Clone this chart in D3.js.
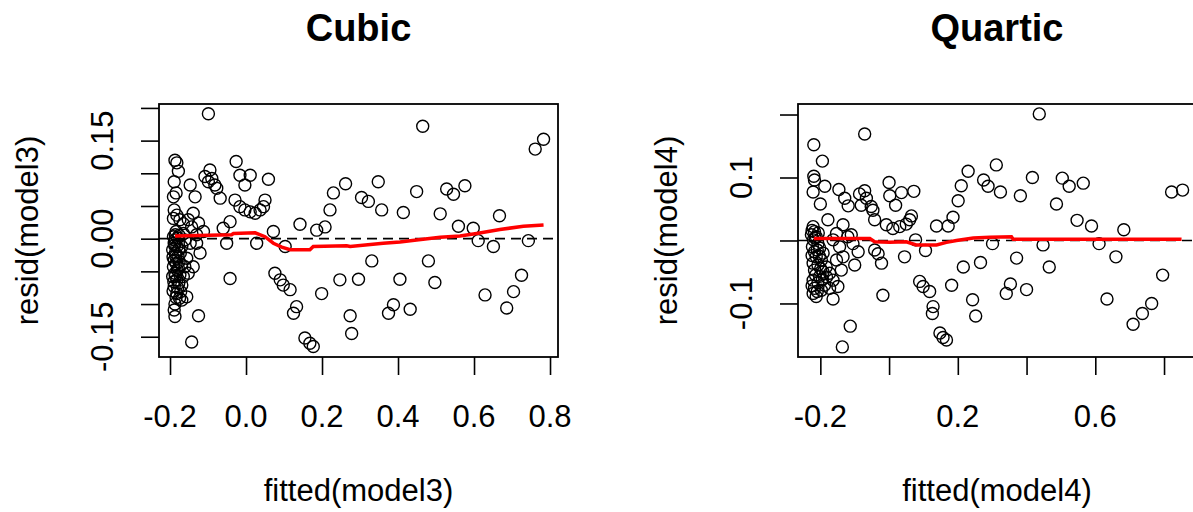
<!DOCTYPE html>
<html><head><meta charset="utf-8">
<script src="https://cdn.jsdelivr.net/npm/d3@7"></script>
<style>
html,body{margin:0;padding:0;background:#fff;}
svg text{font-family:"Liberation Sans",Arial,sans-serif;fill:#000;}
</style></head>
<body><svg id="chart" width="1193" height="512"></svg>
<script>
// ---------- DATA ----------
const titles = ["Cubic", "Quartic"];
const xLabels = ["fitted(model3)", "fitted(model4)"];
const yLabels = ["resid(model3)", "resid(model4)"];

// Cubic panel: [fitted, resid]
const cubicPoints = [
[-0.099,0.191],
[-0.187,0.120],[-0.182,0.116],[-0.178,0.103],[-0.189,0.087],[-0.184,0.070],[-0.191,0.064],
[-0.189,0.044],[-0.182,0.036],[-0.191,0.031],[-0.174,0.029],[-0.165,0.023],[-0.184,0.011],
[-0.191,0.003],[-0.187,-0.002],[-0.189,-0.007],[-0.182,-0.012],[-0.193,-0.017],[-0.186,-0.022],
[-0.179,-0.027],[-0.189,-0.033],[-0.184,-0.038],[-0.191,-0.043],[-0.181,-0.048],[-0.187,-0.053],
[-0.193,-0.058],[-0.182,-0.063],[-0.177,-0.068],[-0.189,-0.073],[-0.169,-0.071],[-0.165,-0.058],
[-0.161,-0.043],[-0.156,-0.030],[-0.169,-0.012],[-0.161,-0.002],[-0.147,-0.007],[-0.182,-0.084],
[-0.175,-0.091],[-0.187,-0.100],[-0.189,-0.109],[-0.187,-0.119],[-0.169,-0.094],[-0.156,-0.089],
[-0.152,-0.053],[-0.139,-0.043],[-0.121,-0.022],[-0.130,-0.007],[-0.143,0.018],[-0.152,0.029],
[-0.139,0.039],[-0.125,0.024],[-0.112,0.011],[-0.165,0.008],[-0.130,0.006],
[-0.186,0.006],[-0.180,0.001],[-0.188,-0.010],[-0.177,-0.016],[-0.185,-0.027],[-0.176,-0.035],
[-0.192,-0.028],[-0.178,-0.045],[-0.186,-0.057],[-0.174,-0.055],[-0.190,-0.066],[-0.180,-0.075],
[-0.172,-0.081],[-0.184,-0.090],[-0.173,-0.022],[-0.170,-0.040],[-0.176,0.005],[-0.192,-0.080],
[-0.147,0.082],[-0.134,0.064],[-0.125,-0.118],[-0.143,-0.158],
[-0.095,0.105],[-0.108,0.095],[-0.090,0.092],[-0.099,0.087],[-0.082,0.082],[-0.077,0.077],[-0.068,0.062],
[-0.042,0.026],[-0.060,0.016],[-0.051,-0.007],[-0.042,-0.061],
[-0.026,0.118],[-0.016,0.097],[0.011,0.097],[-0.003,0.082],[0.059,0.091],
[-0.029,0.059],[-0.016,0.049],[-0.003,0.044],[0.011,0.041],[0.024,0.039],[0.037,0.044],[0.050,0.059],[0.046,0.049],
[0.028,-0.007],[0.072,0.011],[0.103,-0.012],
[0.076,-0.053],[0.090,-0.063],[0.098,-0.071],[0.116,-0.078],[0.133,-0.104],[0.125,-0.114],
[0.155,-0.152],[0.168,-0.160],[0.177,-0.165],
[0.142,0.022],[0.186,0.013],[0.208,0.018],[0.221,0.044],[0.230,0.070],[0.262,0.084],
[0.199,-0.084],[0.247,-0.063],
[0.465,0.172],[0.348,0.087],[0.304,0.063],[0.322,0.057],[0.357,0.044],[0.414,0.040],[0.449,0.072],
[0.511,0.038],[0.528,0.076],[0.546,0.068],[0.576,0.081],[0.559,0.019],[0.598,0.016],[0.611,-0.003],
[0.651,-0.012],[0.667,0.035],[0.743,-0.003],[0.761,0.137],[0.783,0.152],
[0.331,-0.034],[0.296,-0.062],[0.405,-0.062],[0.480,-0.034],[0.497,-0.067],[0.388,-0.101],
[0.375,-0.114],[0.432,-0.108],[0.629,-0.086],[0.704,-0.081],[0.725,-0.056],[0.686,-0.106],
[0.274,-0.118],[0.278,-0.145]
];
const cubicSmooth = [
[-0.187,0.004],[-0.038,0.006],[-0.033,0.008],[0.024,0.009],[0.050,0.003],[0.072,-0.007],
[0.094,-0.013],[0.116,-0.017],[0.168,-0.017],[0.177,-0.012],[0.265,-0.011],[0.274,-0.012],
[0.361,-0.007],[0.405,-0.005],[0.449,-0.002],[0.511,0.002],[0.563,0.004],[0.607,0.008],
[0.668,0.014],[0.730,0.019],[0.783,0.021]
];

// Quartic panel: [fitted, resid]
const quarticPoints = [
[-0.071,0.169],[-0.219,0.152],[-0.194,0.126],[-0.219,0.102],[-0.217,0.096],[-0.221,0.077],[-0.187,0.086],
[-0.200,0.058],[-0.146,0.081],[-0.129,0.067],[-0.119,0.055],[-0.086,0.074],[-0.071,0.079],[-0.066,0.067],
[-0.081,0.056],[-0.052,0.054],[-0.047,0.048],[0.000,0.092],[0.002,0.071],[0.036,0.076],[0.072,0.078],
[0.019,0.056],[-0.042,0.033],[-0.008,0.025],[0.011,0.019],[0.031,0.022],[0.050,0.026],[0.065,0.039],
[0.060,0.033],[0.138,0.023],[0.172,0.023],[0.186,0.037],[0.201,0.063],[0.210,0.087],[0.230,0.110],
[0.275,0.096],
[-0.221,0.022],[-0.217,0.014],[-0.226,0.009],[-0.212,0.006],[-0.220,0.001],[-0.207,-0.005],[-0.223,-0.010],
[-0.202,-0.012],[-0.217,-0.018],[-0.192,-0.020],[-0.212,-0.026],[-0.197,-0.031],[-0.221,-0.036],[-0.207,-0.039],
[-0.183,-0.042],[-0.217,-0.047],[-0.192,-0.050],[-0.173,-0.052],[-0.202,-0.057],[-0.221,-0.063],[-0.207,-0.067],
[-0.188,-0.071],[-0.217,-0.076],[-0.197,-0.079],[-0.221,-0.084],[-0.212,-0.089],[-0.173,-0.076],[-0.163,-0.093],
[-0.215,0.004],[-0.209,-0.015],[-0.224,-0.024],[-0.203,-0.025],[-0.214,-0.055],[-0.199,-0.045],
[-0.224,0.016],[-0.206,0.012],[-0.194,-0.062],[-0.182,-0.058],[-0.209,-0.081],[-0.224,-0.072],
[-0.178,0.033],[-0.134,0.025],[-0.153,0.011],[-0.163,0.001],[-0.144,-0.010],[-0.120,0.006],[-0.105,-0.005],
[-0.134,-0.026],[-0.153,-0.031],[-0.139,-0.047],[-0.163,-0.063],[-0.149,-0.073],[-0.100,-0.039],[-0.090,-0.018],
[-0.110,0.009],
[-0.018,-0.087],[-0.113,-0.136],[-0.136,-0.169],[-0.042,-0.015],[-0.032,-0.021],[-0.022,-0.036],[0.045,-0.026],
[0.077,0.001],[0.106,-0.016],[0.089,-0.065],[0.099,-0.073],[0.118,-0.081],[0.128,-0.105],[0.126,-0.116],
[0.148,-0.147],[0.157,-0.154],[0.167,-0.158],[0.182,-0.071],[0.216,-0.042],[0.266,-0.035],[0.243,-0.094],
[0.252,-0.120],
[0.437,0.201],[0.312,0.120],[0.288,0.086],[0.324,0.077],[0.382,0.071],[0.417,0.100],[0.504,0.099],
[0.524,0.086],[0.565,0.091],[0.487,0.058],[0.547,0.032],[0.589,0.023],[0.683,0.017],[0.822,0.077],
[0.854,0.080],[0.301,-0.005],[0.371,-0.028],[0.448,-0.007],[0.466,-0.042],[0.611,-0.005],[0.660,-0.026],
[0.353,-0.069],[0.341,-0.084],[0.400,-0.078],[0.634,-0.093],[0.796,-0.055],[0.764,-0.100],[0.737,-0.116],
[0.710,-0.133]
];
const quarticSmooth = [
[-0.219,0.003],[-0.056,0.003],[-0.042,-0.002],[0.002,-0.003],[0.050,-0.002],[0.079,-0.007],
[0.138,-0.007],[0.167,-0.003],[0.196,0.000],[0.245,0.004],[0.293,0.005],[0.356,0.006],
[0.361,0.002],[0.851,0.002]
];

// ticks and which of them carry labels
const cubicXTicks = [-0.2, 0.0, 0.2, 0.4, 0.6, 0.8];
const cubicXLabels = [-0.2, 0.0, 0.2, 0.4, 0.6, 0.8];
const cubicYTicks = [-0.15, -0.10, -0.05, 0.00, 0.05, 0.10, 0.15, 0.20];
const cubicYLabels = [-0.15, 0.00, 0.15];
const quarticXTicks = [-0.2, 0.0, 0.2, 0.4, 0.6, 0.8];
const quarticXLabels = [-0.2, 0.2, 0.6];
const quarticYTicks = [-0.1, 0.0, 0.1, 0.2];
const quarticYLabels = [-0.1, 0.1];

// ---------- DRAW ----------
const svg = d3.select("#chart");
const FS = 31;

const panels = [
  {title: titles[0], xlab: xLabels[0], ylab: yLabels[0], pts: cubicPoints, smooth: cubicSmooth,
   xd: [-0.229, 0.821], yd: [-0.181, 0.206], left: 159, right: 558,
   xt: cubicXTicks, xl: cubicXLabels, yt: cubicYTicks, yl: cubicYLabels, yfmt: d3.format(".2f"), xfmt: d3.format(".1f")},
  {title: titles[1], xlab: xLabels[1], ylab: yLabels[1], pts: quarticPoints, smooth: quarticSmooth,
   xd: [-0.265, 0.893], yd: [-0.185, 0.2167], left: 798, right: 1196,
   xt: quarticXTicks, xl: quarticXLabels, yt: quarticYTicks, yl: quarticYLabels, yfmt: d3.format(".1f"), xfmt: d3.format(".1f")}
];
const plotTop = 104, plotBottom = 357;

panels.forEach(p => {
  const x = d3.scaleLinear().domain(p.xd).range([p.left, p.right]);
  const y = d3.scaleLinear().domain(p.yd).range([plotBottom, plotTop]);
  const g = svg.append("g");
  const cx = (p.left + p.right) / 2;
  const cy = (plotTop + plotBottom) / 2;
  const fmtMinus = f => v => f(v).replace("\u2212", "-");

  // title
  g.append("text").attr("x", cx).attr("y", 41).attr("text-anchor", "middle")
    .attr("font-size", 38).attr("font-weight", "bold").text(p.title);

  // x axis
  const xa = g.append("g").attr("transform", `translate(0,${plotBottom})`)
    .call(d3.axisBottom(x).tickValues(p.xt).tickSize(18).tickFormat(""));
  xa.select(".domain").remove();
  xa.selectAll("line").attr("stroke", "#000").attr("stroke-width", 1.6);
  g.selectAll(".xl").data(p.xl).enter().append("text")
    .attr("x", d => x(d)).attr("y", 427).attr("text-anchor", "middle")
    .attr("font-size", FS).text(d => fmtMinus(p.xfmt)(d));

  // y axis
  const ya = g.append("g").attr("transform", `translate(${p.left},0)`)
    .call(d3.axisLeft(y).tickValues(p.yt).tickSize(18).tickFormat(""));
  ya.select(".domain").remove();
  ya.selectAll("line").attr("stroke", "#000").attr("stroke-width", 1.6);
  g.selectAll(".yl").data(p.yl).enter().append("text")
    .attr("transform", d => `translate(${p.left - 46},${y(d)}) rotate(-90)`)
    .attr("text-anchor", "middle").attr("font-size", FS).text(d => fmtMinus(p.yfmt)(d));

  // axis titles
  g.append("text").attr("x", cx).attr("y", 501).attr("text-anchor", "middle")
    .attr("font-size", FS).text(p.xlab);
  g.append("text").attr("transform", `translate(${p.left - 121},${cy}) rotate(-90)`)
    .attr("text-anchor", "middle").attr("font-size", FS).text(p.ylab);

  // dashed zero line
  g.append("line").attr("x1", p.left).attr("x2", p.right)
    .attr("y1", y(0)).attr("y2", y(0))
    .attr("stroke", "#000").attr("stroke-width", 1.6).attr("stroke-dasharray", "10,6");

  // points
  g.append("g").selectAll("circle").data(p.pts).enter().append("circle")
    .attr("cx", d => x(d[0])).attr("cy", d => y(d[1])).attr("r", 6)
    .attr("fill", "none").attr("stroke", "#000").attr("stroke-width", 1.4);

  // smooth
  g.append("path").datum(p.smooth)
    .attr("d", d3.line().x(d => x(d[0])).y(d => y(d[1])))
    .attr("fill", "none").attr("stroke", "#ff0000").attr("stroke-width", 3.5);

  // box
  g.append("rect").attr("x", p.left).attr("y", plotTop)
    .attr("width", p.right - p.left).attr("height", plotBottom - plotTop)
    .attr("fill", "none").attr("stroke", "#000").attr("stroke-width", 1.8);
});
</script></body></html>
